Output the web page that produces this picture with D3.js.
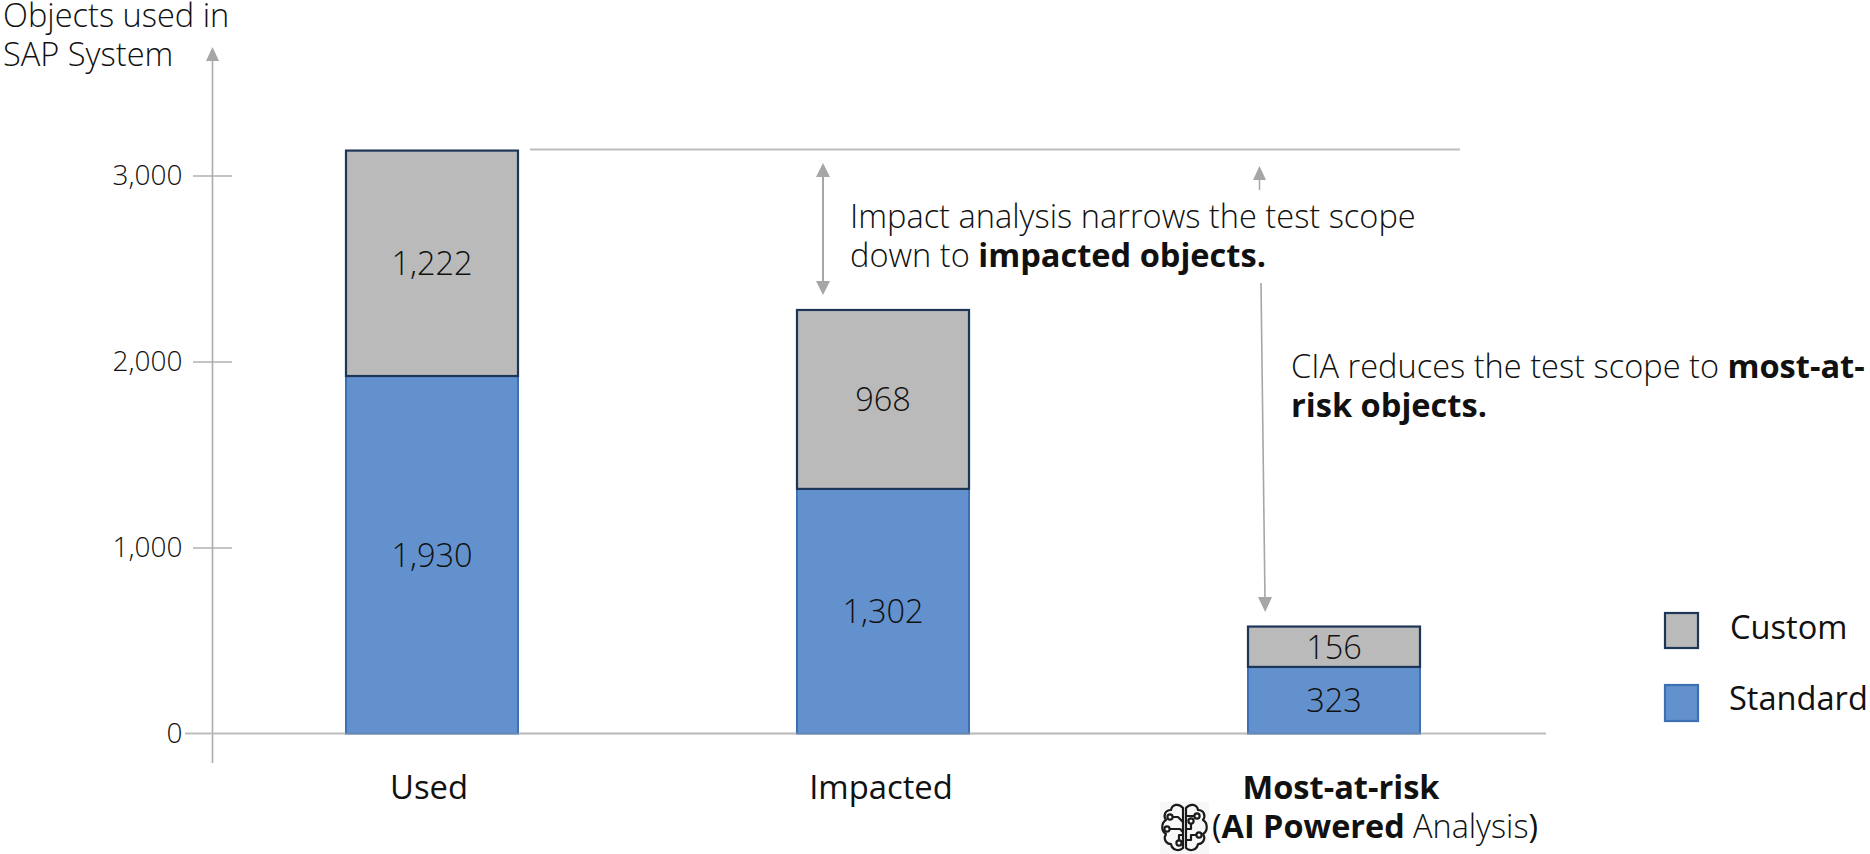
<!DOCTYPE html>
<html><head><meta charset="utf-8">
<script src="https://cdnjs.cloudflare.com/ajax/libs/d3/7.8.5/d3.min.js"></script>
<style>
html,body{margin:0;padding:0;background:#fff;overflow:hidden}
text{font-family:"Open Sans",sans-serif;fill:#111}
.l{font-weight:300}.r{font-weight:400}.b{font-weight:700}
</style></head><body>
<svg id="c" width="1870" height="854"></svg>
<script>
const categories = ["Used", "Impacted", "Most-at-risk"];
const seriesNames = ["Standard", "Custom"];
// Printed labels of the reference
const standardLabels = ["1,930", "1,302", "323"];
const customLabels = ["1,222", "968", "156"];
// Segment heights as read against the reference's y axis (its bars are not drawn to the printed numbers)
const standardHeights = [1922, 1315, 358];
const customHeights = [1212, 962, 217];
const yTicks = [0, 1000, 2000, 3000];
const colors = {Standard: "#6391cd", Custom: "#bababa"};
const strokes = {Standard: "#3d6fb3", Custom: "#1d3557"};

const svg = d3.select("#c");
const y = d3.scaleLinear().domain([0, 3000]).range([733.5, 175.5]);
const x = d3.scaleBand().domain(categories).range([206.5, 1559.5]).paddingInner(0.6186).paddingOuter(0.3093);
const G = "#a6a6a6";

// axes
const yAxis = svg.append("g").attr("transform", "translate(212.5,0)")
  .call(d3.axisLeft(y).tickValues(yTicks).tickFormat(d3.format(",")).tickSize(0).tickPadding(30));
yAxis.select(".domain").remove();
yAxis.selectAll(".tick line").attr("x1", -19.5).attr("x2", 19.5).attr("stroke", "#b0b0b0").attr("stroke-width", 1.5);
yAxis.selectAll(".tick text").attr("class", "l").style("font-size", "28px").style("font-family", null);
yAxis.selectAll(".tick").filter(d => d === 0).select("line").remove();

svg.append("line").attr("x1", 212.5).attr("x2", 212.5).attr("y1", 58).attr("y2", 763).attr("stroke", "#ababab").attr("stroke-width", 1.6);
svg.append("path").attr("d", "M212.5 47 L206 61 L219 61 Z").attr("fill", G);
svg.append("line").attr("x1", 185).attr("x2", 1546).attr("y1", y(0)).attr("y2", y(0)).attr("stroke", "#bdbdbd").attr("stroke-width", 2);

// bars
const rows = categories.map((c, i) => ({c, s: standardHeights[i], k: customHeights[i], sl: standardLabels[i], kl: customLabels[i]}));
const bars = svg.append("g");
bars.selectAll("rect.s").data(rows).join("rect").attr("class", "s")
  .attr("x", d => x(d.c)).attr("width", x.bandwidth())
  .attr("y", d => y(d.s)).attr("height", d => y(0) - y(d.s))
  .attr("fill", colors.Standard).attr("stroke", strokes.Standard).attr("stroke-width", 2);
bars.selectAll("rect.k").data(rows).join("rect").attr("class", "k")
  .attr("x", d => x(d.c)).attr("width", x.bandwidth())
  .attr("y", d => y(d.s + d.k)).attr("height", d => y(d.s) - y(d.s + d.k))
  .attr("fill", colors.Custom).attr("stroke", strokes.Custom).attr("stroke-width", 2.2);
svg.selectAll("line.base").data([0]).join("line").attr("x1", 345).attr("x2", 1421).attr("y1", y(0)).attr("y2", y(0)).attr("stroke", "#bdbdbd").attr("stroke-width", 2).attr("stroke-opacity", .35);

const lab = svg.append("g").attr("class", "l").attr("text-anchor", "middle").style("font-size", "32.5px");
lab.selectAll("text.s").data(rows).join("text").attr("x", d => x(d.c) + x.bandwidth()/2)
  .attr("y", d => (y(d.s) + y(0))/2 + 12).text(d => d.sl);
lab.selectAll("text.k").data(rows).join("text").attr("x", d => x(d.c) + x.bandwidth()/2)
  .attr("y", d => (y(d.s + d.k) + y(d.s))/2 + 12).text(d => d.kl);

// category labels
const catX = [429, 881];
svg.append("g").selectAll("text").data(categories.slice(0, 2)).join("text")
  .attr("class", "r").attr("x", (d, i) => catX[i]).attr("y", 799).attr("text-anchor", "middle")
  .style("font-size", "32.8px").text(d => d);
svg.append("text").attr("class", "b").attr("x", 1341).attr("y", 799).attr("text-anchor", "middle").style("font-size", "32.6px").text(categories[2]);
const ai = svg.append("text").attr("x", 1212).attr("y", 838).style("font-size", "32.4px");
ai.append("tspan").attr("class", "r").text("(");
ai.append("tspan").attr("class", "b").text("AI Powered ");
ai.append("tspan").attr("class", "l").text("Analysis");
ai.append("tspan").attr("class", "r").text(")");

// y title
svg.append("text").attr("class", "l").attr("x", 3).attr("y", 27).style("font-size", "32.6px").text("Objects used in");
svg.append("text").attr("class", "l").attr("x", 3).attr("y", 66).style("font-size", "32.6px").text("SAP System");

// reference line and arrows
svg.append("line").attr("x1", 530).attr("x2", 1460).attr("y1", 149.5).attr("y2", 149.5).attr("stroke", "#bdbdbd").attr("stroke-width", 2);
svg.append("line").attr("x1", 823).attr("x2", 823).attr("y1", 170).attr("y2", 290).attr("stroke", G).attr("stroke-width", 2);
svg.append("path").attr("d", "M823 163 L816 177 L830 177 Z M823 295 L816 281 L830 281 Z").attr("fill", G);
svg.append("line").attr("x1", 1259.5).attr("x2", 1259.5).attr("y1", 175).attr("y2", 190).attr("stroke", G).attr("stroke-width", 1.5);
svg.append("path").attr("d", "M1259.5 166 L1253 180 L1266 180 Z").attr("fill", G);
svg.append("line").attr("x1", 1261).attr("x2", 1265).attr("y1", 283).attr("y2", 600).attr("stroke", G).attr("stroke-width", 1.6);
svg.append("path").attr("d", "M1265.2 612 L1258 597 L1272 597 Z").attr("fill", G);

// annotations
function para(xp, yp, parts){
  const t = svg.append("text").attr("x", xp).attr("y", yp).style("font-size", "32.6px");
  parts.forEach(p => t.append("tspan").attr("class", p[1]).text(p[0]));
}
para(850, 228, [["Impact analysis narrows the test scope", "l"]]);
para(850, 267, [["down to ", "l"], ["impacted objects.", "b"]]);
para(1291, 378, [["CIA reduces the test scope to ", "l"], ["most-at-", "b"]]);
para(1291, 417, [["risk objects.", "b"]]);

// legend
const leg = [{n: "Custom", y: 613, h: 35, tx: 1730, ty: 639}, {n: "Standard", y: 685, h: 36, tx: 1729, ty: 710}];
svg.append("g").selectAll("rect").data(leg).join("rect").attr("x", 1665).attr("width", 33)
  .attr("y", d => d.y).attr("height", d => d.h)
  .attr("fill", d => colors[d.n]).attr("stroke", d => strokes[d.n]).attr("stroke-width", 2.2);
svg.append("g").selectAll("text").data(leg).join("text").attr("class", "r")
  .attr("x", d => d.tx).attr("y", d => d.ty).style("font-size", "32.6px").text(d => d.n);

// brain icon
const b = svg.append("g").attr("transform", "translate(1160,802)");
b.append("rect").attr("width", 49).attr("height", 52).attr("fill", "#f7f7f7");
const ic = b.append("g").attr("fill", "none").attr("stroke", "#1a1a1a").attr("stroke-width", 2.2).attr("stroke-linejoin", "round").attr("stroke-linecap", "round");
ic.append("path").attr("d", "M23 6 C19 1 12 2 11 8 C5 8 3 14 6 18 C1 21 1 29 6 32 C3 37 6 42 11 42 C12 48 19 50 23 46 Z");
ic.append("path").attr("d", "M26 6 C30 1 37 2 38 8 C44 8 46 14 43 18 C48 21 48 29 43 32 C46 37 43 42 38 42 C37 48 30 50 26 46 Z");
ic.append("path").attr("d", "M13 15 H18 L23 20 M10 27 H20 L23 30 M19 38 V33 H23 M27 14 H34 M27 27 H31 V22 M27 38 H31 V33 H36");
[[10,15],[7,27],[19,41],[37,14],[31,19],[39,33]].forEach(p =>
  ic.append("circle").attr("cx", p[0]).attr("cy", p[1]).attr("r", 2.6).attr("fill", "#f7f7f7"));
</script>
</body></html>
